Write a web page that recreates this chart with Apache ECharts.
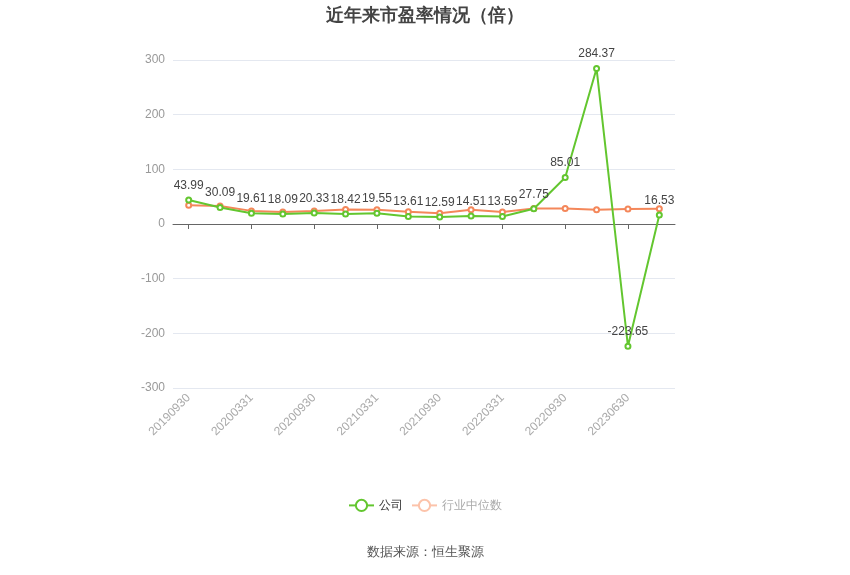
<!DOCTYPE html>
<html>
<head>
<meta charset="utf-8">
<title>近年来市盈率情况（倍）</title>
<script src="https://cdn.jsdelivr.net/npm/echarts@6/dist/echarts.min.js"></script>
<style>
  html, body { margin: 0; padding: 0; background: #fff; }
  #chart { width: 850px; height: 575px; }
</style>
</head>
<body>
<div id="chart"></div>
<script>
// data
var dates = ['20190930', '20191231', '20200331', '20200630', '20200930', '20201231',
             '20210331', '20210630', '20210930', '20211231', '20220331', '20220630',
             '20220930', '20230331', '20230630', '20230930'];
var company = [43.99, 30.09, 19.61, 18.09, 20.33, 18.42, 19.55, 13.61, 12.59, 14.51,
               13.59, 27.75, 85.01, 284.37, -223.65, 16.53];
var industry = [34.5, 33, 24, 22, 24, 26.5, 26, 22.5, 19.5, 26, 22, 28.5, 28.5, 26, 27.5, 28];
var yTicks = { min: -300, max: 300, step: 100 };

var chart = echarts.init(document.getElementById('chart'));

var option = {
    title: {
        text: '近年来市盈率情况（倍）',
        left: 'center',
        top: 2,
        textStyle: { fontSize: 18, fontWeight: 'bold', color: '#444' }
    },
    graphic: [{
        type: 'text',
        left: 'center',
        top: 546,
        style: { text: '数据来源：恒生聚源', fontSize: 13, fill: '#555' }
    }],
    legend: {
        bottom: 58,
        left: 'center',
        itemWidth: 25,
        itemHeight: 14,
        textStyle: { color: '#333', fontSize: 12 },
        data: [
            { name: '公司' },
            { name: '行业中位数', textStyle: { color: '#aaa' },
              itemStyle: { color: '#fcc3aa', borderColor: '#fcc3aa' },
              lineStyle: { color: '#fcc3aa' } }
        ]
    },
    grid: { left: 173, right: 175, top: 60, bottom: 187, outerBoundsMode: 'none' },
    xAxis: {
        type: 'category',
        data: dates,
        boundaryGap: true,
        axisLine: { lineStyle: { color: '#666' } },
        axisTick: { show: true, alignWithLabel: true, interval: 1, length: 5, lineStyle: { color: '#666' } },
        axisLabel: { interval: 1, rotate: 45, color: '#aaa', fontSize: 12, margin: 8 }
    },
    yAxis: {
        type: 'value',
        min: yTicks.min,
        max: yTicks.max,
        interval: yTicks.step,
        axisLine: { show: false },
        axisTick: { show: false },
        axisLabel: { color: '#999', fontSize: 12 },
        splitLine: { lineStyle: { color: '#e4e8f0' } }
    },
    series: [
        {
            name: '公司',
            type: 'line',
            data: company,
            symbol: 'emptyCircle',
            symbolSize: 5,
            z: 3,
            itemStyle: { color: '#63c62f' },
            lineStyle: { width: 2 },
            label: { show: true, position: 'top', color: '#444', fontSize: 12 }
        },
        {
            name: '行业中位数',
            type: 'line',
            data: industry,
            symbol: 'emptyCircle',
            symbolSize: 5,
            z: 2,
            itemStyle: { color: '#f4875a' },
            lineStyle: { width: 2 }
        }
    ]
};

chart.setOption(option);
</script>
</body>
</html>
